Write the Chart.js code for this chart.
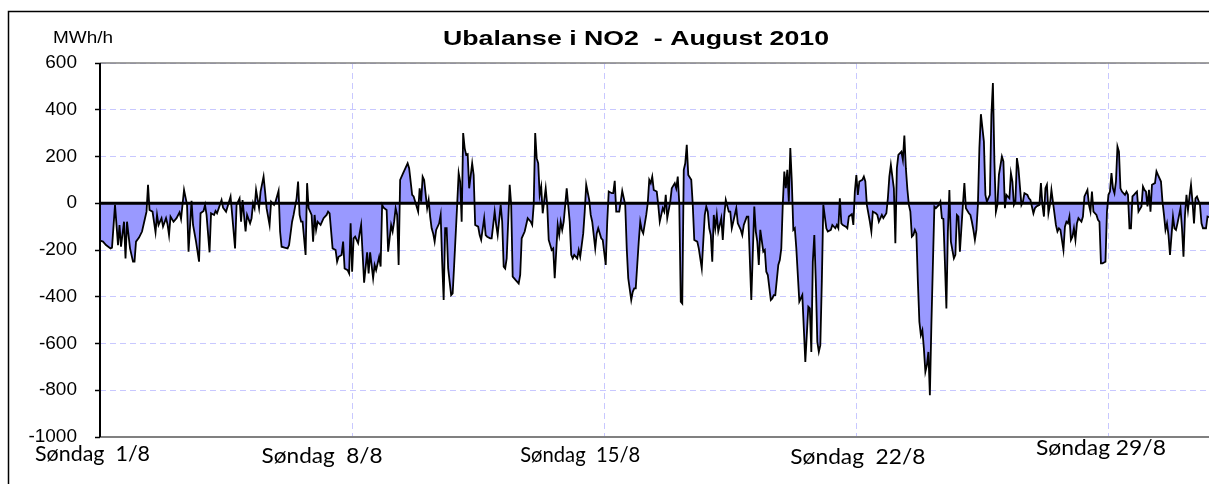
<!DOCTYPE html>
<html>
<head>
<meta charset="utf-8">
<script src="https://cdn.jsdelivr.net/npm/chart.js@4.4.1/dist/chart.umd.min.js"></script>
<style>
  html, body { margin: 0; padding: 0; background: #fff; overflow: hidden; }
  #wrap { position: relative; width: 1209px; height: 484px; }
</style>
</head>
<body>
<div id="wrap"><canvas id="chart" width="1209" height="484"></canvas></div>
<script>
// Ubalanse i NO2 - August 2010, hourly values as [hour of month, MWh/h]
const weekLabels = ['Søndag  1/8', 'Søndag  8/8', 'Søndag  15/8', 'Søndag  22/8', 'Søndag 29/8'];
const weekHours = [0, 168, 336, 504, 672];
const yTicks = [600, 400, 200, 0, -200, -400, -600, -800, -1000];

const week1 = [
  [0,-160],[2,-164],[4,-179],[7,-193],[8,-190],[10,-7],[12,-179],[13,-93],[14,-186],[16,-79],
  [17,-236],[18,-79],[20,-193],[22,-250],[23,-250],[24,-164],[26,-147],[28,-121],[30,-64],[31,-36],
  [32,79],[33,-29],[35,-36],[37,-124],[38,-50],[39,-93],[41,-64],[42,-100],[44,-64],[45,-90],
  [46,-136],[47,-57],[49,-79],[51,-64],[53,-39],[54,-67],[56,57],[58,-7],[59,-207],[61,10],
  [62,-93],[64,-164],[66,-250],[67,-43],[69,-33],[70,-7],[71,-50],[73,-210],[74,-43],[76,-50],
  [77,-33],[78,-43],[81,14],[82,-19],[84,-36],[87,29],[88,-43],[90,-193],[91,-7],[93,21],
  [94,-79],[95,14],[97,-121],[98,-50],[100,-86],[101,-64],[102,0],[103,-21],[104,57],[106,-21],
  [107,50],[109,114],[110,50],[111,-21],[113,-93],[114,7],[116,-7],[117,7],[119,53],[120,-121],
  [121,-186],[123,-190],[125,-193],[126,-179],[128,-79],[129,-50],[131,21],[132,93],[133,-50],[134,-79],
  [135,-79],[137,-221],[138,86],[139,-21],[141,-50],[142,-164],[143,-50],[144,-114],[145,-79],[147,-93],
  [149,-64],[151,-50],[152,-36],[153,-43],[155,-193],[157,-200],[158,-250],[159,-229],[161,-221],[162,-164],
  [163,-279],[165,-286],[166,-300],[167,-86]
];
const week2 = [
  [168,-293],[169,-150],[170,-143],[172,-171],[173,-129],[174,-93],[176,-340],[178,-210],[179,-300],[180,-210],
  [182,-321],[183,-264],[184,-286],[186,-229],[187,-271],[188,-7],[189,-19],[191,-29],[192,-207],[194,-93],
  [195,-121],[196,-79],[197,-21],[198,-50],[199,-264],[200,100],[202,129],[203,143],[205,171],[206,150],
  [208,36],[209,29],[210,7],[212,-36],[213,64],[214,7],[215,114],[216,100],[218,-21],[219,14],
  [220,-57],[221,-107],[222,-129],[223,-164],[224,-114],[226,-86],[227,-50],[228,-250],[229,-414],[230,-107],
  [231,-107],[232,-279],[234,-393],[235,-386],[236,-264],[238,-7],[239,129],[240,93],[241,-79],[242,300],
  [243,236],[244,207],[245,210],[246,64],[248,171],[249,121],[250,-93],[252,-100],[253,-136],[254,-157],
  [256,-64],[257,-136],[258,-143],[260,-150],[261,-150],[263,-36],[264,-93],[265,-136],[267,-7],[268,-79],
  [269,-271],[270,-279],[271,-236],[273,79],[274,-7],[275,-314],[277,-329],[279,-343],[280,-307],[281,-150],
  [283,-121],[285,-64],[287,-79],[288,-93],[289,-7],[290,300],[291,193],[292,171],[293,36],[294,71],
  [295,-43],[297,64],[298,-7],[299,-157],[301,-200],[302,-193],[303,-321],[305,-93],[306,-136],[307,-79],
  [308,-114],[309,-79],[310,-7],[311,64],[313,-79],[314,-221],[315,-236],[316,-221],[318,-236],[319,-200],
  [320,-229],[322,-129],[323,-36],[324,79],[326,14],[327,-50],[328,-79],[330,-193],[331,-129],[332,-107],
  [334,-150],[335,-157]
];
const week3 = [
  [337,-264],[338,-79],[339,50],[341,43],[342,43],[343,96],[344,-36],[346,-36],[347,7],[348,53],
  [350,-7],[351,-193],[352,-321],[354,-414],[355,-379],[356,-364],[357,-364],[359,-164],[360,-79],[361,-114],
  [362,-129],[364,-50],[365,0],[366,100],[367,86],[368,114],[369,57],[371,50],[372,-7],[373,-79],
  [375,-21],[376,-36],[377,36],[378,-64],[380,7],[381,64],[383,86],[384,64],[385,114],[386,0],
  [387,-421],[388,-429],[389,143],[390,171],[391,250],[392,121],[394,100],[395,-7],[396,-157],[398,-164],
  [399,-193],[400,-236],[401,-279],[403,-50],[404,-14],[405,-36],[406,-107],[407,-136],[408,-250],[409,-50],
  [410,-107],[411,-50],[412,-121],[414,-64],[415,-157],[416,-50],[417,14],[419,-36],[420,-36],[421,-107],
  [423,-50],[424,-21],[425,-86],[427,-114],[428,-136],[429,-93],[431,-57],[432,-57],[434,-414],[436,-14],
  [437,-121],[438,-164],[439,-264],[440,-114],[442,-207],[443,-200],[444,-293],[445,-307],[447,-414],[448,-407],
  [449,-393],[450,-393],[452,-264],[453,-243],[454,-193],[455,0],[456,136],[457,64],[458,143],[459,7],
  [460,236],[461,93],[462,-114],[463,-107],[464,-193],[465,-307],[466,-421],[468,-393],[469,-536],[470,-679],
  [472,-443],[473,-450],[474,-636],[475,-250],[476,-136],[477,-336],[478,-593],[479,-636],[480,-607],[481,-336],
  [482,-7],[484,-107],[485,-121],[487,-114],[488,-93],[490,-107],[491,-93],[492,-107],[493,21],[494,-86],
  [495,-93],[497,-100],[498,-107],[499,-57],[501,-47],[502,-93],[503,50]
];
const week4 = [
  [504,121],[505,36],[506,93],[508,100],[509,114],[510,93],[511,-7],[513,-79],[514,-121],[515,-36],
  [517,-43],[518,-50],[519,-79],[521,-50],[522,-64],[524,-43],[525,21],[526,114],[527,164],[529,64],
  [530,-171],[531,150],[532,207],[534,221],[535,186],[536,290],[537,150],[538,60],[539,-7],[540,-36],
  [541,-143],[542,-136],[543,-114],[544,-129],[545,-336],[546,-507],[547,-564],[548,-543],[549,-621],[550,-721],
  [551,-693],[552,-636],[553,-821],[554,-521],[555,-264],[556,-14],[557,-21],[559,-7],[560,7],[561,-64],
  [562,-67],[563,-250],[564,-450],[565,-121],[566,57],[567,-164],[569,-236],[570,-221],[571,-50],[572,-57],
  [573,-207],[574,-107],[575,-7],[576,86],[577,-21],[579,-43],[580,-50],[581,-79],[582,-114],[583,-157],
  [584,-114],[585,-7],[586,236],[587,381],[589,264],[590,36],[591,7],[593,36],[594,379],[595,514],
  [596,179],[597,-36],[598,-7],[599,121],[601,200],[602,179],[603,-21],[604,36],[606,21],[607,129],
  [608,93],[609,-7],[610,7],[611,193],[612,150],[614,-7],[615,7],[616,43],[618,36],[619,21],
  [620,14],[622,-43],[623,-21],[624,-14],[626,-7],[627,86],[628,-7],[629,-57],[630,64],[631,79],
  [632,-43],[633,-7],[634,57],[636,-43],[637,-93],[638,-121],[639,-107],[640,-114],[642,-200],[643,-100],
  [644,-79],[645,-86],[646,-57],[647,-157],[648,-143],[649,-107],[650,-157],[651,-86],[652,-64],[654,-79],
  [655,-57],[656,29],[658,57],[659,-7],[660,-36],[661,50],[662,-36],[664,-50],[665,-71],[666,-79],
  [667,-257],[668,-257],[670,-250],[671,-36]
];
const week5 = [
  [672,36],[673,50],[674,129],[675,64],[676,43],[677,93],[678,243],[679,221],[680,64],[681,50],
  [683,36],[684,50],[685,36],[686,-107],[687,-107],[688,29],[689,36],[690,43],[691,50],[692,-36],
  [694,-14],[695,71],[696,57],[697,50],[698,-14],[699,57],[700,-36],[701,79],[703,86],[704,136],
  [705,121],[707,93],[708,7],[709,-50],[710,-114],[711,-86],[712,-136],[713,-221],[715,-57],[716,-107],
  [717,-114],[718,-86],[720,-21],[721,-107],[722,-229],[723,-50],[724,36],[725,-29],[726,29],[727,79],
  [728,7],[729,-86],[730,21],[731,29],[733,-7],[734,-86],[735,-107],[737,-107],[738,-57],[739,-60]
];

const samples = [...week1, ...week2, ...week3, ...week4, ...week5];

// the week captions are hand placed in the original: anchor hour, baseline, width
const captionHours = [-5, 148, 320, 505, 667];
const captionY = [461, 463, 462, 464, 455];
const captionW = [115, 121, 120, 135, 130];

// draw text squeezed/stretched to a target width (the original text is wider than its height suggests)
function drawText(ctx, text, x, y, font, align, width) {
  ctx.save();
  ctx.font = font;
  ctx.fillStyle = '#000';
  ctx.textAlign = align;
  ctx.textBaseline = 'alphabetic';
  const sx = width ? width / ctx.measureText(text).width : 1;
  ctx.translate(x, y);
  ctx.scale(sx, 1);
  ctx.fillText(text, 0, 0);
  ctx.restore();
}

const decorations = {
  id: 'decorations',
  beforeDraw(chart) {
    const ctx = chart.ctx;
    ctx.save();
    ctx.fillStyle = '#fff';
    ctx.fillRect(0, 0, chart.width, chart.height);
    ctx.strokeStyle = '#000';
    ctx.lineWidth = 1.5;
    ctx.strokeRect(8.5, 11.5, chart.width + 40, chart.height + 40);
    ctx.restore();
  },
  afterDatasetsDraw(chart) {
    const { ctx, chartArea: a, scales: { y } } = chart;
    const y0 = y.getPixelForValue(0);
    ctx.save();
    // zero line
    ctx.strokeStyle = '#000';
    ctx.lineWidth = 3;
    ctx.beginPath();
    ctx.moveTo(a.left, y0);
    ctx.lineTo(a.right, y0);
    ctx.stroke();
    // plot area top and bottom
    ctx.strokeStyle = '#808080';
    ctx.lineWidth = 1.5;
    ctx.beginPath();
    ctx.moveTo(a.left, a.top);
    ctx.lineTo(a.right, a.top);
    ctx.stroke();
    ctx.lineWidth = 2;
    ctx.beginPath();
    ctx.moveTo(a.left, a.bottom);
    ctx.lineTo(a.right, a.bottom);
    ctx.stroke();
    // value axis
    ctx.strokeStyle = '#000';
    ctx.lineWidth = 2;
    ctx.beginPath();
    ctx.moveTo(a.left, a.top);
    ctx.lineTo(a.left, a.bottom);
    ctx.stroke();
    ctx.restore();
  },
  afterDraw(chart) {
    const { ctx, scales: { x } } = chart;
    drawText(ctx, 'Ubalanse i NO2  - August 2010', 636, 45, 'bold 21px "Liberation Sans", Arial', 'center', 386);
    drawText(ctx, 'MWh/h', 53, 43, '16px "Liberation Sans", Arial', 'left', 60);
    weekLabels.forEach((lab, i) => {
      drawText(ctx, lab, x.getPixelForValue(captionHours[i]), captionY[i],
        '21px Lato, "Open Sans", sans-serif', 'center', captionW[i]);
    });
  }
};

new Chart(document.getElementById('chart'), {
  type: 'line',
  data: {
    datasets: [{
      data: samples.map(([h, v]) => ({ x: h, y: v })),
      borderColor: '#000',
      borderWidth: 1.8,
      backgroundColor: '#9999ff',
      fill: 'origin',
      pointRadius: 0,
      tension: 0
    }]
  },
  options: {
    responsive: false,
    animation: false,
    devicePixelRatio: 1,
    layout: { padding: { top: 63, left: 0, right: 0, bottom: 0 } },
    plugins: {
      legend: { display: false },
      tooltip: { enabled: false }
    },
    scales: {
      x: {
        type: 'linear',
        min: 0,
        max: 739,
        afterBuildTicks: s => { s.ticks = weekHours.map(v => ({ value: v })); },
        afterFit: s => { s.height = 47; },
        ticks: { display: false },
        grid: { color: '#c8c8ff', lineWidth: 1, drawTicks: false },
        border: { display: false, dash: [6, 4] }
      },
      y: {
        min: -1000,
        max: 600,
        afterBuildTicks: s => { s.ticks = yTicks.map(v => ({ value: v })); },
        afterFit: s => { s.width = 100; },
        ticks: {
          color: '#000',
          padding: 18,
          font: { family: '"Liberation Sans", Arial', size: 19 },
          callback: v => String(v)
        },
        grid: {
          color: '#c8c8ff',
          lineWidth: 1,
          tickLength: 5,
          tickColor: '#000',
          tickWidth: 1.5,
          tickBorderDash: []
        },
        border: { display: false, dash: [6, 4] }
      }
    }
  },
  plugins: [decorations]
});
</script>
</body>
</html>
